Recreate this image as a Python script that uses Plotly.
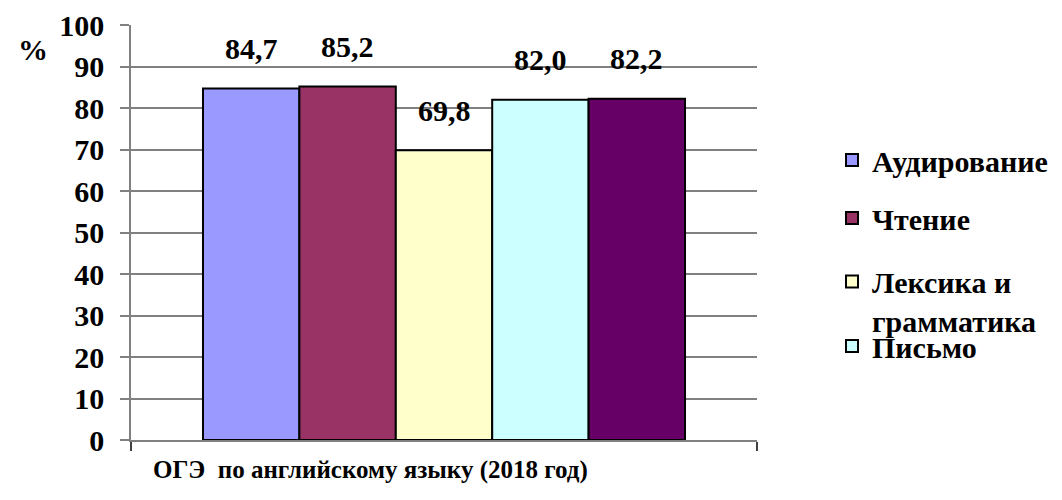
import plotly.graph_objects as go

# ---- data ----
category = ["ОГЭ  по английскому языку (2018 год)"]
series_names = ["Аудирование", "Чтение", "Лексика и<br>грамматика", "Письмо", "Говорение"]
values = [84.7, 85.2, 69.8, 82.0, 82.2]
labels = ["84,7", "85,2", "69,8", "82,0", "82,2"]
colors = ["#9999FF", "#993366", "#FFFFCC", "#CCFFFF", "#660066"]
y_ticks = [0, 10, 20, 30, 40, 50, 60, 70, 80, 90, 100]

FONT = "Liberation Serif"
FS = 30

OFF = 8  # page body margin
W, H = 1062 - OFF, 500 - OFF
L, R, T, B = 131 - OFF, 757 - OFF, 25 - OFF, 440 - OFF


def py(y_ref):
    return (B - (y_ref - OFF)) / (B - T)


def px(x_ref):
    return ((x_ref - OFF) - L) / (R - L)


legend_y = [py(160), py(218), py(301), py(346)]
legend_x = px(832)

fig = go.Figure()
for i, (n, v, c) in enumerate(zip(series_names, values, colors)):
    kw = {}
    if i < 4:
        kw["legend"] = "legend" if i == 0 else f"legend{i+1}"
        kw["showlegend"] = True
    else:
        kw["showlegend"] = False
    fig.add_trace(go.Bar(
        x=[0], y=[v], name=f"<b>{n}</b>".replace("<br>", "</b><br><b>"),
        marker=dict(color=c, line=dict(color="black", width=2)),
        **kw,
    ))

gap = 0.23
fig.update_layout(barmode="group", bargap=gap, bargroupgap=0)

n = len(values)
bw = (1 - gap) / n
for i, (v, lab) in enumerate(zip(values, labels)):
    xc = -(1 - gap) / 2 + (i + 0.5) * bw
    fig.add_annotation(x=xc, y=v, xref="x", yref="y", text=f"<b>{lab}</b>",
                       showarrow=False, yanchor="middle", yshift=40,
                       font=dict(family=FONT, size=FS, color="black"))

fig.add_annotation(x=px(370), y=py(470), xref="paper", yref="paper",
                   text="<b>" + category[0] + "</b>", showarrow=False,
                   xanchor="center", yanchor="middle",
                   font=dict(family=FONT, size=25, color="black"))
fig.add_annotation(x=px(33), y=py(50), xref="paper", yref="paper",
                   text="<b>%</b>", showarrow=False,
                   xanchor="center", yanchor="middle",
                   font=dict(family=FONT, size=FS, color="black"))

leg_common = dict(xref="paper", yref="paper", xanchor="left", yanchor="middle",
                  bgcolor="rgba(0,0,0,0)", borderwidth=0,
                  font=dict(family=FONT, size=FS, color="black"),
                  itemclick=False, itemdoubleclick=False)

fig.update_layout(
    width=W, height=H,
    margin=dict(l=L, r=W - R, t=T, b=H - B, autoexpand=False),
    paper_bgcolor="white", plot_bgcolor="white",
    showlegend=True,
    legend=dict(x=legend_x, y=legend_y[0], **leg_common),
    legend2=dict(x=legend_x, y=legend_y[1], **leg_common),
    legend3=dict(x=legend_x, y=legend_y[2], valign="top", **leg_common),
    legend4=dict(x=legend_x, y=legend_y[3], **leg_common),
    xaxis=dict(type="linear", range=[-0.5, 0.5], showticklabels=False,
               showgrid=False, zeroline=False, showline=True,
               linecolor="#808080", linewidth=1.5,
               tickvals=[-0.5, 0.5], ticks="outside", ticklen=9,
               tickcolor="#404040", tickwidth=1.5),
    yaxis=dict(range=[0, 100], tickvals=y_ticks,
               ticktext=[f"<b>{t}</b>" for t in y_ticks],
               showgrid=False, zeroline=False, showline=True,
               linecolor="#808080", linewidth=1.5,
               ticks="outside", ticklen=9, tickcolor="#808080", tickwidth=1.5,
               ticklabelstandoff=10, ticklabeloverflow="allow",
               tickfont=dict(family=FONT, size=FS, color="black")),
    yaxis2=dict(range=[0, 100], overlaying="y", tickvals=y_ticks[1:-1],
                showgrid=True, gridcolor="#808080", gridwidth=1.5,
                showticklabels=False, ticks="", zeroline=False, showline=False,
                layer="below traces"),
)

fig.add_trace(go.Scatter(x=[0], y=[0], yaxis="y2", mode="markers",
                         marker=dict(opacity=0), showlegend=False,
                         hoverinfo="skip"))

fig.write_html("out.html")
